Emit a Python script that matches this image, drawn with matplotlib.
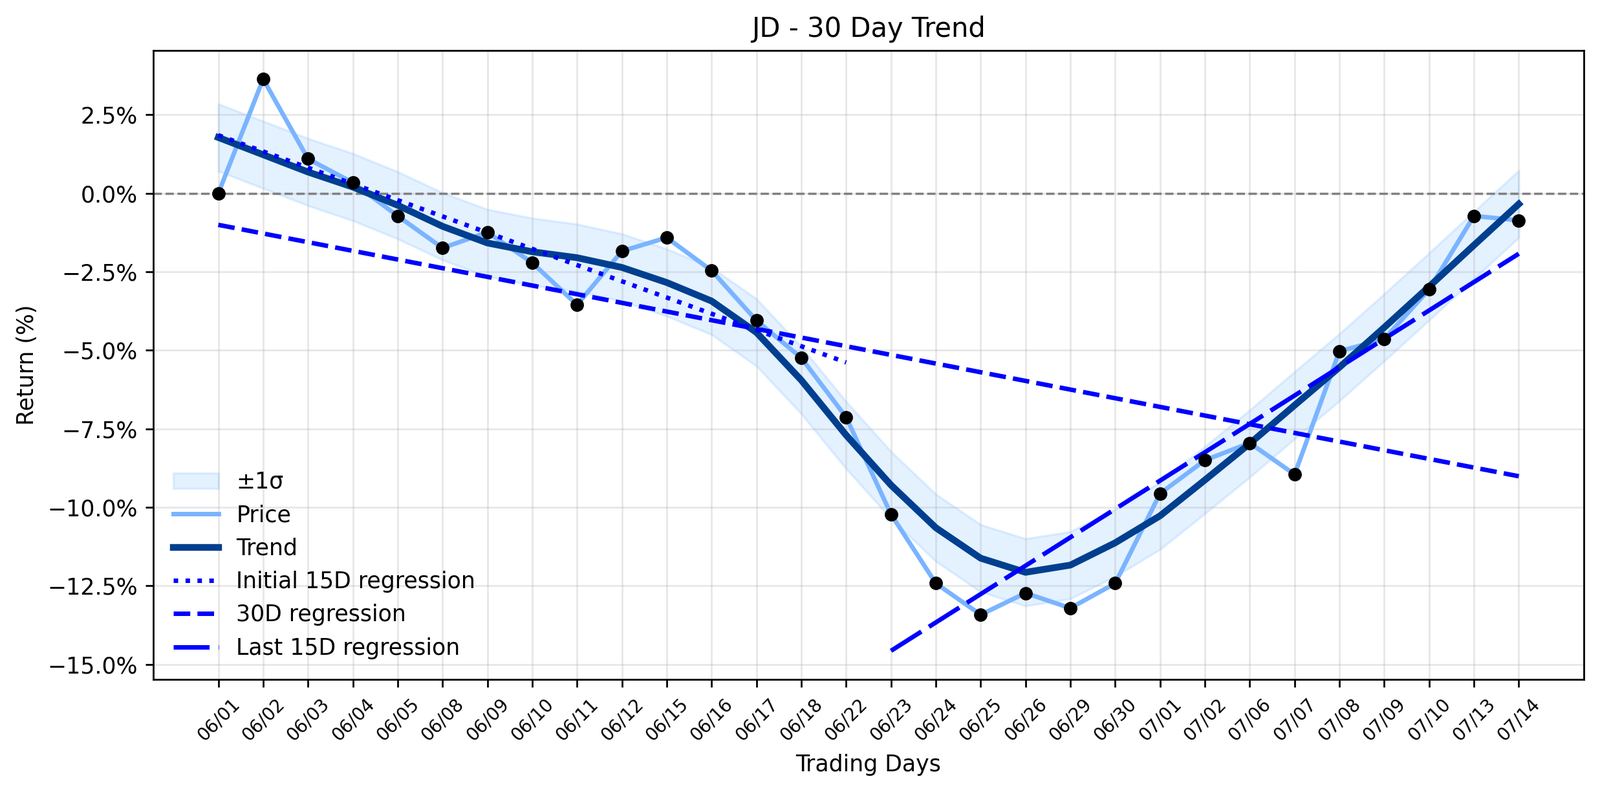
import numpy as np
import matplotlib
matplotlib.use("Agg")
import matplotlib.pyplot as plt
from matplotlib.ticker import PercentFormatter

# ---- data ----
dates = ["06/01", "06/02", "06/03", "06/04", "06/05", "06/08", "06/09", "06/10",
         "06/11", "06/12", "06/15", "06/16", "06/17", "06/18", "06/22", "06/23",
         "06/24", "06/25", "06/26", "06/29", "06/30", "07/01", "07/02", "07/06",
         "07/07", "07/08", "07/09", "07/10", "07/13", "07/14"]

price = [0.00, 3.64, 1.10, 0.34, -0.72, -1.74, -1.24, -2.21, -3.55, -1.84,
         -1.41, -2.46, -4.05, -5.24, -7.13, -10.22, -12.42, -13.42, -12.73, -13.21,
         -12.42, -9.56, -8.50, -7.95, -8.95, -5.03, -4.64, -3.06, -0.72, -0.86]

trend = [1.78, 1.23, 0.68, 0.20, -0.38, -1.05, -1.58, -1.86, -2.05, -2.36,
         -2.84, -3.43, -4.43, -5.95, -7.70, -9.29, -10.65, -11.62, -12.07, -11.84,
         -11.13, -10.27, -9.13, -7.97, -6.75, -5.54, -4.27, -2.97, -1.65, -0.34]

sigma = 1.07  # width of the ±1σ band (percentage points)

# ---- figure ----
DPI = 250
fig = plt.figure(figsize=(2474 / DPI, 1224 / DPI), dpi=DPI)
ax = fig.add_axes([237 / 2474, 1 - 1050 / 1224, (2449 - 237) / 2474, (1050 - 78) / 1224])

x = np.arange(len(dates))
p = np.array(price)
t = np.array(trend)

ax.fill_between(x, t - sigma, t + sigma, color="#4da3ff", alpha=0.15, label="±1σ")
ax.plot(x, p, color="#7ab4ff", linewidth=2, label="Price", zorder=3)
ax.plot(x, t, color="#003f8f", linewidth=3, label="Trend", zorder=4)

# regressions
n0 = 15
c0 = np.polyfit(x[:n0], p[:n0], 1)
ax.plot(x[:n0], np.polyval(c0, x[:n0]), color="#0000ff", linestyle=":", linewidth=2,
        label="Initial 15D regression", zorder=5)
c1 = np.polyfit(x, p, 1)
ax.plot(x, np.polyval(c1, x), color="#0000ff", linestyle="--", linewidth=2,
        label="30D regression", zorder=5)
c2 = np.polyfit(x[-n0:], p[-n0:], 1)
ax.plot(x[-n0:], np.polyval(c2, x[-n0:]), color="#0000ff", linestyle=(0, (8, 2)),
        linewidth=2, label="Last 15D regression", zorder=5)

ax.scatter(x, p, s=25, color="black", zorder=6)
ax.axhline(0, color="gray", linestyle="--", linewidth=1, zorder=2)

ax.set_title("JD - 30 Day Trend", fontsize=12)
ax.set_xlabel("Trading Days", fontsize=10)
ax.set_ylabel("Return (%)", fontsize=10)
ax.set_xticks(x)
ax.set_xticklabels(dates, rotation=45, fontsize=8)
ax.yaxis.set_major_formatter(PercentFormatter(decimals=1))
ax.grid(True, alpha=0.3)
ax.legend(loc="lower left", frameon=False, fontsize=10)

fig.savefig("out.png", dpi=DPI)
